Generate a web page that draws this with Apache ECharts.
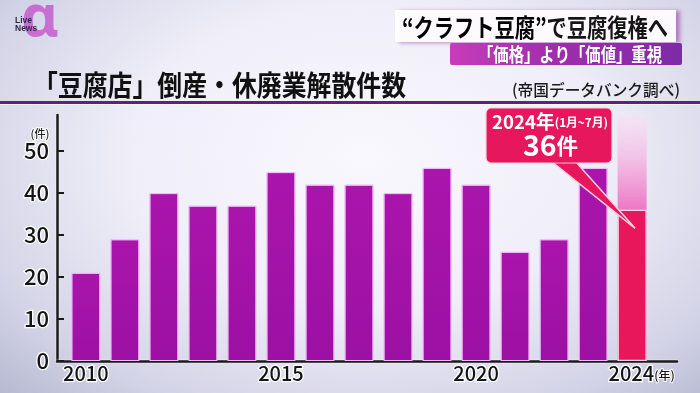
<!DOCTYPE html>
<html><head><meta charset="utf-8">
<script src="https://cdn.jsdelivr.net/npm/echarts@6/dist/echarts.min.js"></script>
<style>
html,body{margin:0;padding:0;}
body{width:700px;height:393px;overflow:hidden;background:radial-gradient(ellipse 78% 90% at 52% 40%, #f9f8fe 0%, #f0eff9 42%, #d2d3e6 76%, #aeb1cb 100%);}
#c{width:700px;height:393px;}
</style></head><body><div id="c"></div>
<script>
// ---- data ----
const years = [2010, 2011, 2012, 2013, 2014, 2015, 2016, 2017, 2018, 2019, 2020, 2021, 2022, 2023, 2024];
const counts = [21, 29, 40, 37, 37, 45, 42, 42, 40, 46, 42, 26, 29, 46, 36];
const highlightYear = 2024;
const yTickValues = [0, 10, 20, 30, 40, 50];
const xTickYears = [2010, 2015, 2020, 2024];
const titleText = '「豆腐店」倒産・休廃業解散件数';
const sourceText = '(帝国データバンク調べ)';
const headlineA = '“クラフト豆腐”';
const headlineB = 'で豆腐復権へ';
const subHeadline = '「価格」より「価値」重視';
const yUnit = '(件)';
const xUnit = '(年)';
const calloutLine1a = '2024年';
const calloutLine1b = '(1月~7月)';
const calloutNum = '36';
const calloutUnit = '件';

// ---- layout ----
const F = '"Noto Sans CJK JP", "Noto Sans", sans-serif';
const yMax = 58.6;
const xMin = 2009.26, xMax = 2025.15;

const cv = document.createElement('canvas').getContext('2d');
function measure(text, size, weight) {
  cv.font = weight + ' ' + size + 'px "Noto Sans CJK JP"';
  return cv.measureText(text).width;
}
function fitText(text, size, weight, left, right, cy, fill, extra) {
  const nat = measure(text, size, weight);
  return {
    type: 'text', x: left, y: cy, scaleX: (right - left) / nat, z: 100,
    style: Object.assign({ text: text, x: 0, y: 0, fill: fill, fontSize: size, fontWeight: weight, fontFamily: F, align: 'left', verticalAlign: 'middle' }, extra || {})
  };
}

const chart = echarts.init(document.getElementById('c'), null, { renderer: 'canvas' });

const barData = years.map((y, i) => {
  const item = { value: [y, counts[i]] };
  if (y === highlightYear) {
    item.itemStyle = { color: '#e8165b', borderColor: '#ffd3e2', borderWidth: 1.2 };
  }
  return item;
});
const ghostData = [{ value: [highlightYear, yMax] }];

const labelStyle = { color: '#141414', textBorderColor: '#ffffff', textBorderWidth: 2.5, fontFamily: F, fontWeight: 500 };

chart.setOption({
  backgroundColor: 'transparent',
  animation: false,
  grid: { left: 57, right: 23, top: 115, bottom: 32 },
  xAxis: {
    type: 'value', min: xMin, max: xMax,
    splitLine: { show: false },
    axisTick: { show: false },
    axisLine: { show: true, lineStyle: { color: '#1a1a1a', width: 2.5, shadowColor: '#fff', shadowBlur: 2 } },
    axisLabel: Object.assign({
      customValues: xTickYears, showMinLabel: true, showMaxLabel: true,
      fontSize: 20, margin: 2,
      formatter: function (v) {
        return v === 2024 ? '{s|}' + v + '{u|' + xUnit + '}' : String(v);
      },
      rich: {
        s: { width: 19 },
        u: { fontSize: 12, color: '#141414', textBorderColor: '#fff', textBorderWidth: 2, fontFamily: F, padding: [4, 0, 0, 0] }
      }
    }, labelStyle)
  },
  yAxis: {
    type: 'value', min: 0, max: yMax, interval: 10,
    splitLine: { show: false },
    axisLine: { show: true, lineStyle: { color: '#1a1a1a', width: 2.5, shadowColor: '#fff', shadowBlur: 2 } },
    axisTick: { show: true, inside: true, length: 7, customValues: yTickValues, lineStyle: { color: '#1a1a1a', width: 2 } },
    axisLabel: Object.assign({ customValues: yTickValues, showMinLabel: true, showMaxLabel: true, fontSize: 22, margin: 8 }, labelStyle)
  },
  series: [
    {
      type: 'bar', name: 'ghost', data: ghostData, barWidth: 29, barGap: '-100%', z: 1,
      itemStyle: {
        color: { type: 'linear', x: 0, y: 0, x2: 0, y2: 1, colorStops: [
          { offset: 0, color: 'rgba(246,226,244,0.65)' },
          { offset: 0.18, color: 'rgba(242,190,228,0.95)' },
          { offset: 0.39, color: '#ec76c5' },
          { offset: 1, color: '#ec76c5' }
        ] }
      }
    },
    {
      type: 'bar', name: 'count', data: barData, barWidth: 29, barGap: '-100%', z: 2,
      itemStyle: {
        color: { type: 'linear', x: 0, y: 0, x2: 0, y2: 1, colorStops: [
          { offset: 0, color: '#aa15ac' }, { offset: 1, color: '#9c10a4' }
        ] },
        borderColor: 'rgba(240,190,245,0.9)', borderWidth: 1
      }
    }
  ]
});

// annotation tail tip anchored inside the highlighted bar
const tip = chart.convertToPixel({ xAxisIndex: 0, yAxisIndex: 0 }, [highlightYear, 31.6]);
tip[0] += 3;

const boxL = 486, boxT = 108, boxW = 126, boxH = 55;
const calloutFill = '#e6175c';

const wA = measure(headlineA, 25, 'bold');
const wB = measure(headlineB, 25, 'bold');
const headScale = (668 - 402) / (wA + wB);

const c1a = measure(calloutLine1a, 19, 'bold');
const c1b = measure(calloutLine1b, 12, 'bold');
const l1Scale = (608 - 492) / (c1a + c1b);
const c2a = measure(calloutNum, 29, 'bold');
const c2b = measure(calloutUnit, 22, 'bold');
const l2Scale = (578 - 523) / (c2a + c2b);

const graphics = [
  // logo
  { type: 'text', x: 40, y: 19, z: 100, style: { text: 'α', fontSize: 58, fontWeight: 'bold', fontFamily: '"Noto Sans", sans-serif', align: 'center', verticalAlign: 'middle',
      fill: '#c55ccc', opacity: 0.85 } },
  { type: 'text', x: 15, y: 20.5, z: 101, style: { text: 'Live', fontSize: 8.5, fontWeight: 'bold', fontFamily: '"Liberation Sans", sans-serif', fill: '#2f2a45', verticalAlign: 'middle' } },
  { type: 'text', x: 15, y: 28.5, z: 101, style: { text: 'News', fontSize: 8.5, fontWeight: 'bold', fontFamily: '"Liberation Sans", sans-serif', fill: '#2f2a45', verticalAlign: 'middle' } },

  // headline box
  { type: 'rect', z: 90, shape: { x: 395, y: 10, width: 281, height: 32 },
    style: { fill: 'rgba(255,255,255,0.96)', shadowColor: 'rgba(150,40,160,0.55)', shadowBlur: 4, shadowOffsetX: 4, shadowOffsetY: 1 } },
  { type: 'group', x: 402, y: 27, scaleX: headScale, children: [
    { type: 'text', x: 0, y: 0, z: 100, style: { text: headlineA, fontSize: 25, fontWeight: 'bold', fontFamily: F, verticalAlign: 'middle',
        fill: { type: 'linear', x: 0, y: 0, x2: 1, y2: 0, colorStops: [{ offset: 0, color: '#d3318d' }, { offset: 1, color: '#a8289a' }] } } },
    { type: 'text', x: wA, y: 0, z: 100, style: { text: headlineB, fontSize: 25, fontWeight: 'bold', fontFamily: F, verticalAlign: 'middle', fill: '#151515' } }
  ] },
  { type: 'rect', z: 90, shape: { x: 450, y: 43, width: 232, height: 22, r: 2 },
    style: { fill: { type: 'linear', x: 0, y: 0, x2: 1, y2: 0, colorStops: [
      { offset: 0, color: '#c73cba' }, { offset: 0.45, color: '#a02eac' }, { offset: 1, color: '#7e2ba6' }] } } },
  fitText(subHeadline, 19, 'bold', 478, 662, 54.5, '#ffffff'),

  // title
  fitText(titleText, 28, 'bold', 33, 406, 85, '#111111'),
  fitText(sourceText, 16, 500, 512, 680, 89.5, '#1a1a1a'),
  { type: 'rect', z: 90, shape: { x: 0, y: 101, width: 700, height: 3 }, style: { fill: '#6c1a82' } },
  { type: 'rect', z: 90, shape: { x: 0, y: 104, width: 700, height: 1 }, style: { fill: 'rgba(255,255,255,0.8)' } },

  // axis unit
  { type: 'text', x: 40, y: 134, z: 100, style: { text: yUnit, fontSize: 11, fontWeight: 500, fontFamily: F, fill: '#222', align: 'center', verticalAlign: 'middle', stroke: '#fff', lineWidth: 2 } },

  // callout
  { type: 'polygon', z: 110, shape: { points: [[551, 161], [575, 161], tip] }, style: { fill: calloutFill, stroke: '#fbd0de', lineWidth: 1.5 } },
  { type: 'rect', z: 111, shape: { x: boxL, y: boxT, width: boxW, height: boxH, r: 5 }, style: { fill: calloutFill, stroke: '#fbd0de', lineWidth: 1.2 } },
  { type: 'polygon', z: 112, shape: { points: [[552.5, 158], [573.5, 158], [573.5, 162.2], [552.5, 162.2]] }, style: { fill: calloutFill } },
  { type: 'group', x: 492, y: 121.5, scaleX: l1Scale, children: [
    { type: 'text', x: 0, y: 0, z: 120, style: { text: calloutLine1a, fontSize: 19, fontWeight: 'bold', fontFamily: F, fill: '#fff', verticalAlign: 'middle' } },
    { type: 'text', x: c1a, y: 1, z: 120, style: { text: calloutLine1b, fontSize: 12, fontWeight: 'bold', fontFamily: F, fill: '#fff', verticalAlign: 'middle' } }
  ] },
  { type: 'group', x: 523, y: 145, scaleX: l2Scale, children: [
    { type: 'text', x: 0, y: 0, z: 120, style: { text: calloutNum, fontSize: 29, fontWeight: 'bold', fontFamily: F, fill: '#fff', verticalAlign: 'middle' } },
    { type: 'text', x: c2a, y: 1, z: 120, style: { text: calloutUnit, fontSize: 22, fontWeight: 'bold', fontFamily: F, fill: '#fff', verticalAlign: 'middle' } }
  ] }
];

chart.setOption({ graphic: graphics });
</script></body></html>
